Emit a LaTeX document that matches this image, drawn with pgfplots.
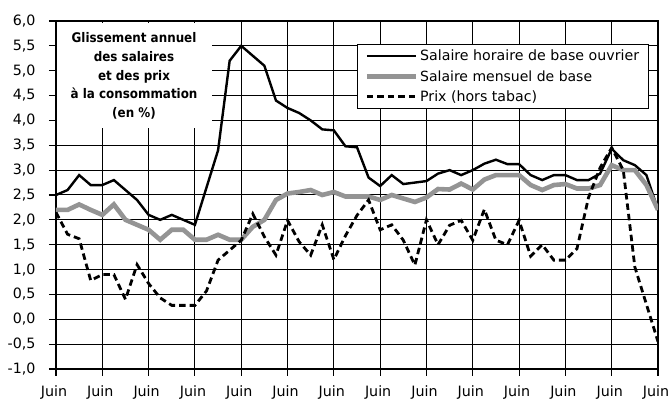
\documentclass[border=0pt]{standalone}
\usepackage{fontspec}
\setmainfont{DejaVu Sans}
\newfontfamily\titlefont[FakeStretch=0.9]{DejaVu Sans}
\usepackage{pgfplots}
\pgfplotsset{compat=1.18}
\usetikzlibrary{calc}
\definecolor{sgray}{RGB}{148,148,148}

\pgfplotstableread{
i h m p
0 2.5 2.2 2.15
1 2.6 2.2 1.71
2 2.9 2.31 1.62
3 2.7 2.2 0.78
4 2.7 2.1 0.9
5 2.8 2.31 0.9
6 2.6 2.0 0.4
7 2.4 1.9 1.1
8 2.1 1.8 0.72
9 2.0 1.6 0.43
10 2.1 1.8 0.28
11 2.0 1.8 0.28
12 1.9 1.6 0.28
13 2.65 1.6 0.57
14 3.4 1.7 1.19
15 5.2 1.6 1.39
16 5.5 1.6 1.59
17 5.3 1.86 2.12
18 5.1 2.0 1.66
19 4.4 2.4 1.29
20 4.25 2.53 1.99
21 4.15 2.56 1.56
22 4.0 2.6 1.29
23 3.82 2.5 1.9
24 3.8 2.56 1.2
25 3.48 2.47 1.68
26 3.46 2.47 2.09
27 2.85 2.47 2.4
28 2.68 2.4 1.8
29 2.9 2.5 1.9
30 2.72 2.43 1.59
31 2.75 2.36 1.09
32 2.78 2.45 2.0
33 2.93 2.62 1.5
34 3.0 2.61 1.89
35 2.9 2.73 1.99
36 3.0 2.61 1.59
37 3.13 2.81 2.21
38 3.21 2.9 1.59
39 3.12 2.9 1.5
40 3.12 2.9 1.99
41 2.9 2.7 1.27
42 2.8 2.6 1.5
43 2.9 2.7 1.19
44 2.9 2.72 1.19
45 2.8 2.63 1.42
46 2.8 2.63 2.45
47 2.93 2.7 3.05
48 3.43 3.1 3.45
49 3.2 3.0 3.0
50 3.1 3.0 1.05
51 2.9 2.7 0.3
52 2.2 2.2 -0.45
}\data

\begin{document}
\begin{tikzpicture}
\begin{axis}[
  scale only axis, width=602bp, height=348bp,
  xmin=0, xmax=52, ymin=-1, ymax=6,
  xtick={0,4,...,52},
  xticklabels={Juin,Juin,Juin,Juin,Juin,Juin,Juin,Juin,Juin,Juin,Juin,Juin,Juin,Juin},
  ytick={-1,-0.5,0,0.5,1,1.5,2,2.5,3,3.5,4,4.5,5,5.5,6},
  grid=major,
  major grid style={black, line width=1bp},
  axis line style={black, line width=1.1bp},
  tick align=outside, xtick pos=bottom, ytick pos=left,
  major tick length=7bp,
  tick style={black, line width=1.1bp},
  /pgf/number format/assume math mode=true,
  /pgf/number format/use comma,
  /pgf/number format/fixed,
  /pgf/number format/fixed zerofill,
  /pgf/number format/precision=1,
  yticklabel style={font=\fontsize{14.3}{17}\selectfont, xshift=-10bp},
  xticklabel style={font=\fontsize{14.3}{17}\selectfont, yshift=-6bp, xshift=-2bp},
  legend cell align=left,
  legend image code/.code={\draw[#1] (0bp,0bp) -- (49bp,0bp);},
  legend style={at={(0.5,0.935)}, anchor=north west, draw=black, line width=1.1bp, fill=white,
    inner xsep=7bp, inner ysep=4bp, row sep=4bp},
]
\addplot[black, line width=2.4bp] table[x=i, y=h] {\data};
\addlegendentry{\resizebox{219bp}{!}{Salaire horaire de base ouvrier}}
\addplot[sgray, line width=4.6bp] table[x=i, y=m] {\data};
\addlegendentry{\resizebox{172bp}{!}{Salaire mensuel de base}}
\addplot[black, line width=2.8bp, dash pattern=on 6.5bp off 4bp] table[x=i, y=p] {\data};
\addlegendentry{\resizebox{117bp}{!}{Prix (hors tabac)}}
\fill[white] (axis cs:0.1,3.84) rectangle (axis cs:13.45,5.96);
\node[align=center, inner sep=0pt, anchor=north, font=\titlefont\bfseries\fontsize{13.3}{19}\selectfont]
  at (axis cs:6.74,5.78) {Glissement annuel\\des salaires\\et des prix\\à la consommation\\(en \%)};
\end{axis}
\coordinate (bl) at ($(current axis.south west)+(-56bp,-34bp)$);
\coordinate (tr) at ($(current axis.north east)+(14bp,21bp)$);
\pgfresetboundingbox
\useasboundingbox (bl) rectangle (tr);
\end{tikzpicture}
\end{document}
